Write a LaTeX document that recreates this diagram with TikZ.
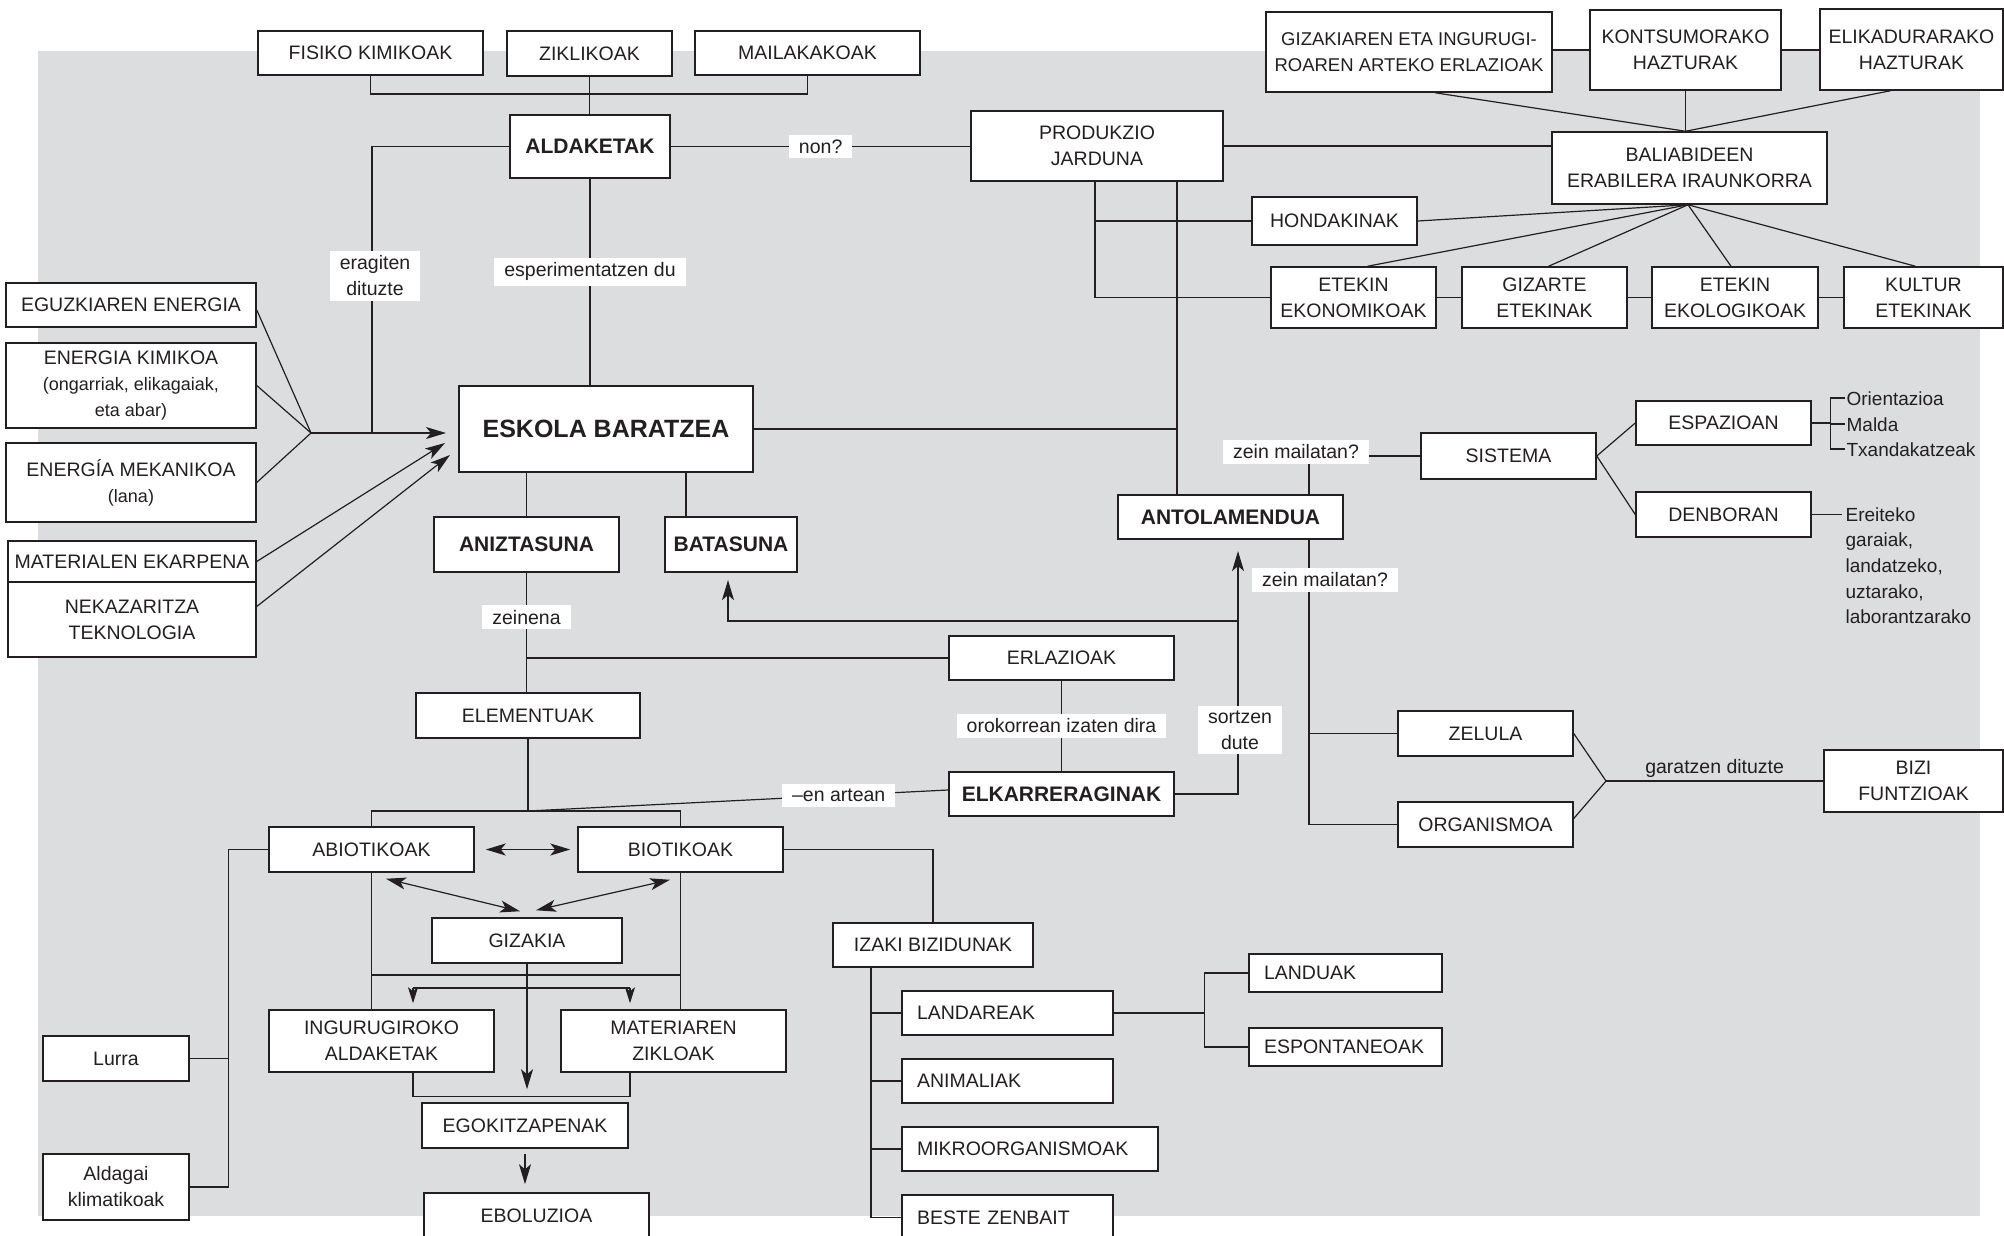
\documentclass[tikz,border=0pt]{standalone}
\usepackage{fontspec}
\setmainfont{Liberation Sans}
\usetikzlibrary{arrows.meta}
\definecolor{bgray}{RGB}{220,221,223}
\definecolor{ink}{RGB}{35,31,32}
\newcommand\boxfont{\fontsize{19.5}{26}\selectfont}
\newcommand\smallfont{\fontsize{18}{24}\selectfont}
\newcommand\notefont{\fontsize{19}{25.6}\selectfont}
\newcommand\keyfont{\fontsize{21}{26}\selectfont\bfseries}
\newcommand\bigkeyfont{\fontsize{25}{30}\selectfont\bfseries}
\tikzset{
    >={Stealth[length=20pt,width=12pt,inset=5pt]},
    box/.style={draw=ink,line width=1.5pt,fill=white,align=center,inner sep=2pt,font=\boxfont},
    key/.style={box,line width=2.2pt,font=\keyfont},
    lbox/.style={box,align=left,inner xsep=15pt},
    sz/.style 2 args={minimum width=#1pt,minimum height=#2pt},
    lsz/.style 2 args={text width=#1pt,minimum height=#2pt},
    lbl/.style={fill=white,inner xsep=10pt,inner ysep=5pt,align=center,font=\boxfont},
    note/.style={inner sep=1pt,font=\notefont,text height=14pt,text depth=0pt},
    short/.style={-{Stealth[length=16pt,width=10pt,inset=4pt]}}
}
\begin{document}
\begin{tikzpicture}[x=1pt,y=-1pt,line width=1.2pt,color=ink]
    \useasboundingbox (0,0) rectangle (2004,1236);
    \fill[bgray] (38,51) rectangle (1980,1216);

    % upper part
    \node[box,sz={225}{44}] (fisiko) at (370.5,53) {FISIKO KIMIKOAK};
    \node[box,sz={165}{45}] (ziklikoak) at (589.5,53.5) {ZIKLIKOAK};
    \node[box,sz={225}{44}] (mailak) at (807.5,53) {MAILAKAKOAK};
    \node[key,sz={160}{63}] (aldaketak) at (590,146.5) {ALDAKETAK};
    \node[box,sz={252}{70}] (produkzio) at (1097,146) {PRODUKZIO\\JARDUNA};
    \node[box,sz={286}{80},font=\fontsize{18.5}{26}\selectfont] (gizakiaren) at (1409,52) {GIZAKIAREN ETA INGURUGI-\\ROAREN ARTEKO ERLAZIOAK};
    \node[box,sz={191}{80}] (kontsumo) at (1685.5,50) {KONTSUMORAKO\\HAZTURAK};
    \node[box,sz={183}{81}] (elikadura) at (1911.5,49.5) {ELIKADURARAKO\\HAZTURAK};
    \node[box,sz={275}{72}] (baliabide) at (1689.5,168) {BALIABIDEEN\\ERABILERA IRAUNKORRA};
    \node[box,sz={165}{48}] (hondakinak) at (1334.5,221) {HONDAKINAK};
    \node[box,sz={165}{61}] (etekinek) at (1353.5,297.5) {ETEKIN\\EKONOMIKOAK};
    \node[box,sz={165}{61}] (gizarte) at (1544.5,297.5) {GIZARTE\\ETEKINAK};
    \node[box,sz={166}{61}] (ekologia) at (1735,297.5) {ETEKIN\\EKOLOGIKOAK};
    \node[box,sz={159}{61}] (kultur) at (1923.5,297.5) {KULTUR\\ETEKINAK};

    % left column
    \node[box,sz={250}{44}] (eguzki) at (131,305) {EGUZKIAREN ENERGIA};
    \node[box,sz={250}{85}] (kimikoa) at (131,385.5) {ENERGIA KIMIKOA\\{\smallfont (ongarriak, elikagaiak,}\\{\smallfont eta abar)}};
    \node[box,sz={250}{79}] (mekanikoa) at (131,482.5) {ENERGÍA MEKANIKOA\\{\smallfont (lana)}};
    \node[box,sz={248}{41}] (materialen) at (132,561.5) {MATERIALEN EKARPENA};
    \node[box,sz={248}{75}] (nekazaritza) at (132,619.5) {NEKAZARITZA\\TEKNOLOGIA};

    % centre
    \node[key,sz={294}{86},font=\bigkeyfont] (eskola) at (606,429) {ESKOLA BARATZEA};
    \node[key,sz={185}{55}] (aniztasuna) at (526.5,544.5) {ANIZTASUNA};
    \node[key,sz={132}{55}] (batasuna) at (731,544.5) {BATASUNA};
    \node[key,sz={225}{44}] (antolamendua) at (1230.5,517) {ANTOLAMENDUA};
    \node[box,sz={175}{46}] (sistema) at (1508.5,456) {SISTEMA};
    \node[box,sz={175}{44}] (espazioan) at (1723.5,423) {ESPAZIOAN};
    \node[box,sz={175}{45}] (denboran) at (1723.5,514.5) {DENBORAN};
    \node[note,anchor=west] (orient) at (1845,398) {Orientazioa};
    \node[note,anchor=west] (malda) at (1845,424) {Malda};
    \node[note,anchor=west] (txanda) at (1845,449) {Txandakatzeak};
    \node[inner sep=0pt,font=\notefont,align=left,anchor=north west] (ereiteko) at (1845,507) {Ereiteko\\garaiak,\\landatzeko,\\uztarako,\\laborantzarako};
    \node[box,sz={225}{44}] (erlazioak) at (1061.5,658) {ERLAZIOAK};
    \node[box,sz={224}{45}] (elementuak) at (528,715.5) {ELEMENTUAK};
    \node[key,sz={225}{44}] (elkar) at (1061.5,794) {ELKARRERAGINAK};
    \node[box,sz={175}{45}] (zelula) at (1485.5,733.5) {ZELULA};
    \node[box,sz={175}{45}] (organismoa) at (1485.5,824.5) {ORGANISMOA};
    \node[box,sz={179}{62}] (bizi) at (1913.5,781) {BIZI\\FUNTZIOAK};

    % lower part
    \node[box,sz={205}{45}] (abiotik) at (371.5,849.5) {ABIOTIKOAK};
    \node[box,sz={205}{45}] (biotik) at (680.5,849.5) {BIOTIKOAK};
    \node[box,sz={190}{45}] (gizakia) at (527,940.5) {GIZAKIA};
    \node[box,sz={225}{62}] (ingurugiro) at (381.5,1041) {INGURUGIROKO\\ALDAKETAK};
    \node[box,sz={225}{62}] (materiaren) at (673.5,1041) {MATERIAREN\\ZIKLOAK};
    \node[box,sz={206}{45}] (egokitz) at (525,1125.5) {EGOKITZAPENAK};
    \node[box,sz={225}{46}] (eboluzioa) at (536.5,1216) {EBOLUZIOA};
    \node[box,sz={146}{45}] (lurra) at (116,1058.5) {Lurra};
    \node[box,sz={146}{66}] (aldagai) at (116,1187) {Aldagai\\klimatikoak};
    \node[box,sz={200}{44}] (izaki) at (933,945) {IZAKI BIZIDUNAK};
    \node[lbox,lsz={181}{44}] (landareak) at (1007.5,1013) {LANDAREAK};
    \node[lbox,lsz={181}{44}] (animaliak) at (1007.5,1081) {ANIMALIAK};
    \node[lbox,lsz={226}{44}] (mikro) at (1030,1149) {MIKROORGANISMOAK};
    \node[lbox,lsz={181}{45}] (beste) at (1007.5,1217.5) {BESTE ZENBAIT};
    \node[lbox,lsz={163}{38}] (landuak) at (1345.5,973) {LANDUAK};
    \node[lbox,lsz={163}{38}] (esponta) at (1345.5,1047) {ESPONTANEOAK};

    % connectors, top
    \coordinate (topjoin) at (589,94);
    \draw (fisiko.south) |- (topjoin) -| (mailak.south);
    \draw (ziklikoak.south) -- (ziklikoak.south |- aldaketak.north);
    \draw (aldaketak.south) -- node[lbl,pos=0.45] {esperimentatzen du} (aldaketak.south |- eskola.north);
    \draw (aldaketak.east) -- node[lbl] {non?} (aldaketak.east -| produkzio.west);
    \draw (produkzio.east) -- (produkzio.east -| baliabide.west);
    \draw (gizakiaren.east |- kontsumo.west) -- (kontsumo.west);
    \draw (kontsumo.east) -- (kontsumo.east -| elikadura.west);
    \coordinate (balitop) at ([xshift=-4pt]baliabide.north);
    \draw ([xshift=26pt]gizakiaren.south) -- (balitop);
    \draw (kontsumo.south) -- (balitop);
    \draw ([xshift=-21pt]elikadura.south) -- (balitop);
    \coordinate (balibot) at ([xshift=-1.5pt]baliabide.south);
    \draw (balibot) -- (hondakinak.east);
    \draw (balibot) -- ([xshift=14pt]etekinek.north);
    \draw (balibot) -- ([xshift=4pt]gizarte.north);
    \draw (balibot) -- ([xshift=-4pt]ekologia.north);
    \draw (balibot) -- ([xshift=-8pt]kultur.north);
    \draw (etekinek.east) -- (gizarte.west);
    \draw (gizarte.east) -- (ekologia.west);
    \draw (ekologia.east) -- (kultur.west);
    \coordinate (pa) at ([xshift=-2pt]produkzio.south);
    \coordinate (pb) at ([xshift=80pt]produkzio.south);
    \draw (pa) |- (etekinek.west);
    \draw (hondakinak.west) -- (hondakinak.west -| pa);
    \draw (pb) -- (pb |- antolamendua.north);
    \draw (eskola.east) -- (eskola.east -| pb);

    % energy inputs
    \coordinate (enjoin) at (311,433);
    \coordinate (eragin) at (372,433);
    \coordinate (tipa) at (446,433);
    \coordinate (tipb) at (445,443);
    \coordinate (tipc) at (450,455);
    \draw ([yshift=-5pt]eguzki.east) -- (enjoin);
    \draw (kimikoa.east) -- (enjoin);
    \draw (mekanikoa.east) -- (enjoin);
    \draw[->] (enjoin) -- (tipa);
    \draw[->] (materialen.east) -- (tipb);
    \draw[->] ([yshift=13pt]nekazaritza.east) -- (tipc);
    \draw (aldaketak.west) -| (eragin);

    % organisation
    \coordinate (am) at ([xshift=78.5pt]antolamendua.north);
    \draw (am) |- (sistema.west);
    \draw (sistema.east) -- (espazioan.west);
    \draw (sistema.east) -- (denboran.west);
    \coordinate (brk) at ([xshift=19pt]espazioan.east);
    \draw (espazioan.east) -- (brk);
    \draw (orient.west) -| (brk) |- (txanda.west);
    \draw (malda.west) -- (malda.west -| brk);
    \draw[shorten >=3pt] (denboran.east) -- (denboran.east -| ereiteko.west);
    \coordinate (as) at ([xshift=78.5pt]antolamendua.south);
    \draw (as) |- (organismoa.west);
    \draw (zelula.west) -- (zelula.west -| as);
    \coordinate (zo) at (1606,781);
    \draw (zelula.east) -- (zo);
    \draw ([yshift=6pt]organismoa.east) -- (zo);
    \draw (zo) -- node[above,inner sep=3pt,font=\boxfont] {garatzen dituzte} (zo -| bizi.west);

    % diversity and unity
    \draw (eskola.south -| aniztasuna.north) -- (aniztasuna.north);
    \coordinate (bt) at ([xshift=-45pt]batasuna.north);
    \draw (bt) -- (bt |- eskola.south);
    \draw (aniztasuna.south) -- node[lbl,pos=0.37] {zeinena} (aniztasuna.south |- elementuak.north);
    \draw (erlazioak.west) -- (erlazioak.west -| aniztasuna.south);
    \draw (erlazioak.south) -- node[lbl] {orokorrean izaten dira} (elkar.north);
    \coordinate (up) at ([xshift=7.5pt,yshift=-11pt]antolamendua.south);
    \draw[->] (elkar.east) -| (up);
    \coordinate (bj) at (up |- 0,621);
    \coordinate (batip) at ([xshift=-3pt,yshift=-7pt]batasuna.south);
    \draw[->] (bj) -| (batip);

    % elements
    \coordinate (ej) at (elementuak.south |- 0,811);
    \draw (elementuak.south) -- (ej);
    \draw (ej) -- node[lbl,pos=0.74] {–en artean} ([yshift=4pt]elkar.west);
    \draw (abiotik.north) |- (ej);
    \draw (biotik.north) |- (ej);
    \draw[<->,shorten <=11pt,shorten >=7pt] (abiotik.east) -- (biotik.west);
    \coordinate (ga) at ([xshift=14.5pt,yshift=-6pt]abiotik.south);
    \coordinate (gb) at ([xshift=-7pt,yshift=6pt]gizakia.north);
    \coordinate (gc) at ([xshift=-10.5pt,yshift=-7pt]biotik.south);
    \coordinate (gd) at ([xshift=9pt,yshift=7pt]gizakia.north);
    \draw[<->] (ga) -- (gb);
    \draw[<->] (gc) -- (gd);
    \coordinate (hz) at (0,975);
    \draw (abiotik.south) -- (abiotik.south |- ingurugiro.north);
    \draw (biotik.south) -- (biotik.south |- materiaren.north);
    \draw (abiotik.south |- hz) -- (biotik.south |- hz);
    \coordinate (ia) at (413,988);
    \coordinate (ib) at (630,988);
    \draw (ia) -- (ib);
    \draw[short,shorten >=6pt] (ia) -- (ia |- ingurugiro.north);
    \draw[short,shorten >=6pt] (ib) -- (ib |- materiaren.north);
    \draw[->,shorten >=13pt] (gizakia.south) -- (gizakia.south |- egokitz.north);
    \draw (ingurugiro.south -| ia) -- ++(0,24) -| (materiaren.south -| ib);
    \draw[->,shorten <=5pt,shorten >=8pt] (egokitz.south) -- (egokitz.south |- eboluzioa.north);
    \coordinate (lj) at ([xshift=39pt]aldagai.east);
    \draw (abiotik.west) -| (lj) -- (aldagai.east);
    \draw (lurra.east) -- (lurra.east -| lj);

    % living beings
    \draw (biotik.east) -| (izaki.north);
    \coordinate (iz) at ([xshift=-62pt]izaki.south);
    \draw (iz) |- (beste.west);
    \draw (landareak.west) -- (landareak.west -| iz);
    \draw (animaliak.west) -- (animaliak.west -| iz);
    \draw (mikro.west) -- (mikro.west -| iz);
    \coordinate (lb) at ([xshift=91pt]landareak.east);
    \draw (landareak.east) -- (lb);
    \draw (landuak.west) -| (lb) |- (esponta.west);

    % free labels
    \node[lbl] (eragiten) at (375,276) {eragiten\\dituzte};
    \node[lbl] (sortzen) at (1240,730) {sortzen\\dute};
    \node[lbl] (zeinup) at (1296,452) {zein mailatan?};
    \node[lbl] (zeindown) at (1325,580) {zein mailatan?};
\end{tikzpicture}
\end{document}
